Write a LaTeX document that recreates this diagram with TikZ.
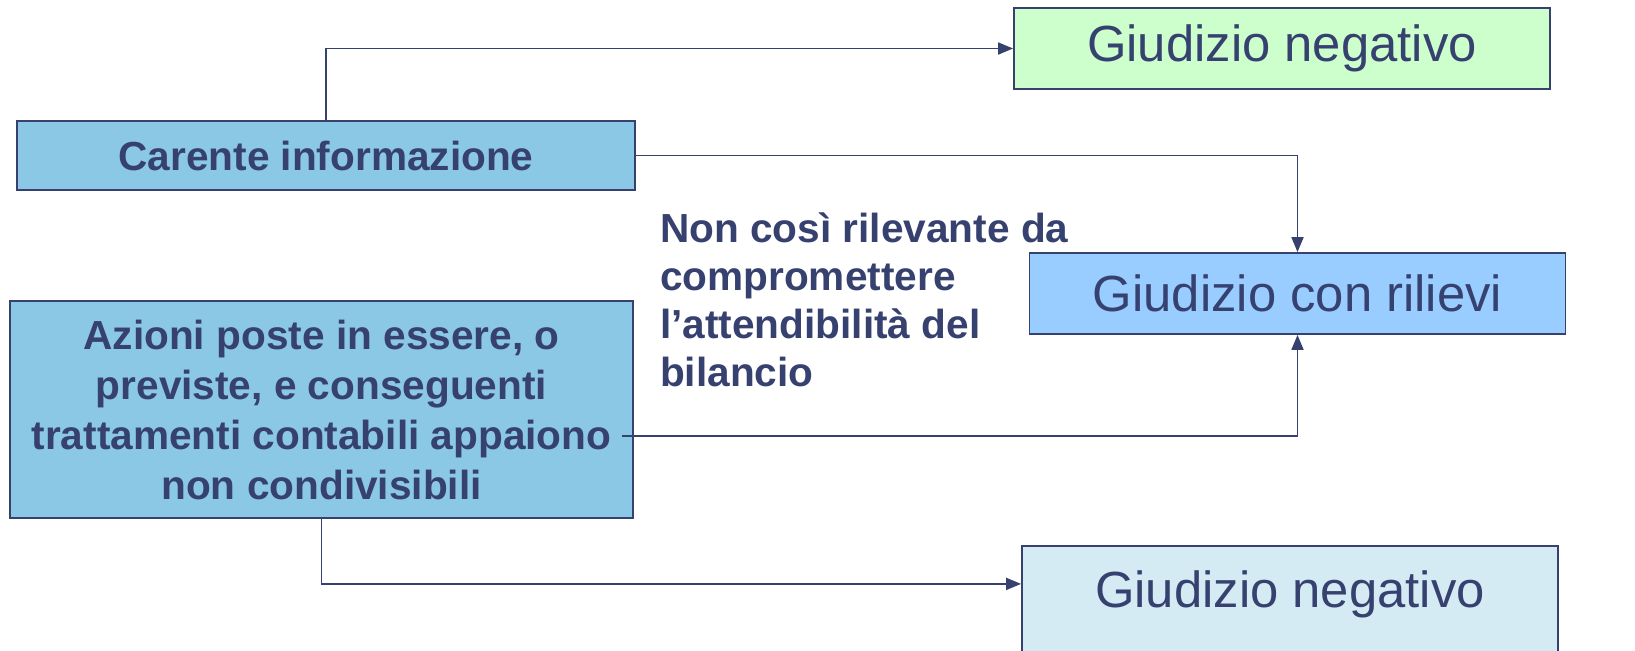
\documentclass[tikz,border=0pt]{standalone}
\usepackage{fontspec}
\setmainfont{Liberation Sans}
\usetikzlibrary{arrows.meta}
\definecolor{inchiostro}{HTML}{36416F}
\definecolor{verde}{HTML}{CCFFCC}
\definecolor{celeste}{HTML}{8BC8E5}
\definecolor{azzurro}{HTML}{99CCFF}
\definecolor{chiaro}{HTML}{D5EBF4}

\begin{document}
\begin{tikzpicture}[x=0.5pt,y=-0.5pt,
  box/.style={draw=inchiostro,line width=0.9pt,inner sep=0pt,text=inchiostro},
  esito/.style={box,minimum width=268pt,minimum height=40.5pt,font=\fontsize{25.4}{30}\selectfont},
  causa/.style={box,align=center,font=\fontsize{20.3}{25}\selectfont\bfseries},
  freccia/.style={draw=inchiostro,line width=0.9pt,-{Triangle[length=7.5pt,width=6pt]}}]
\useasboundingbox (0,0) rectangle (1635,650);
\node[esito,fill=verde] (negativo) at (1282,48.5) {Giudizio negativo};
\node[causa,fill=celeste,minimum width=309pt,minimum height=34.5pt] (carente) at (326,155.5) {Carente informazione};
\node[esito,fill=azzurro] (rilievi) at (1297.5,293.5) {Giudizio con rilievi};
\node[causa,fill=celeste,minimum width=311.5pt,minimum height=108.5pt] (azioni) at (321.5,409.5)
  {Azioni poste in essere, o\\previste, e conseguenti\\trattamenti contabili appaiono\\non condivisibili};
\node[esito,fill=chiaro,anchor=north,minimum height=0pt,text height=31pt,text depth=40pt] (negativob) at (1290,545) {Giudizio negativo};
\node[anchor=west,align=left,text=inchiostro,font=\fontsize{20.3}{24}\selectfont\bfseries] (nota) at (653,300)
  {Non così rilevante da\\compromettere\\l’attendibilità del\\bilancio};
\coordinate (azioniout) at (622,436);
\draw[freccia] (carente.north) |- (negativo.west);
\draw[freccia] (carente.east) -| (rilievi.north);
\draw[freccia] (azioniout) -| (rilievi.south);
\draw[freccia] (azioni.south) |- ([yshift=12pt]negativob.base west);
\end{tikzpicture}
\end{document}
